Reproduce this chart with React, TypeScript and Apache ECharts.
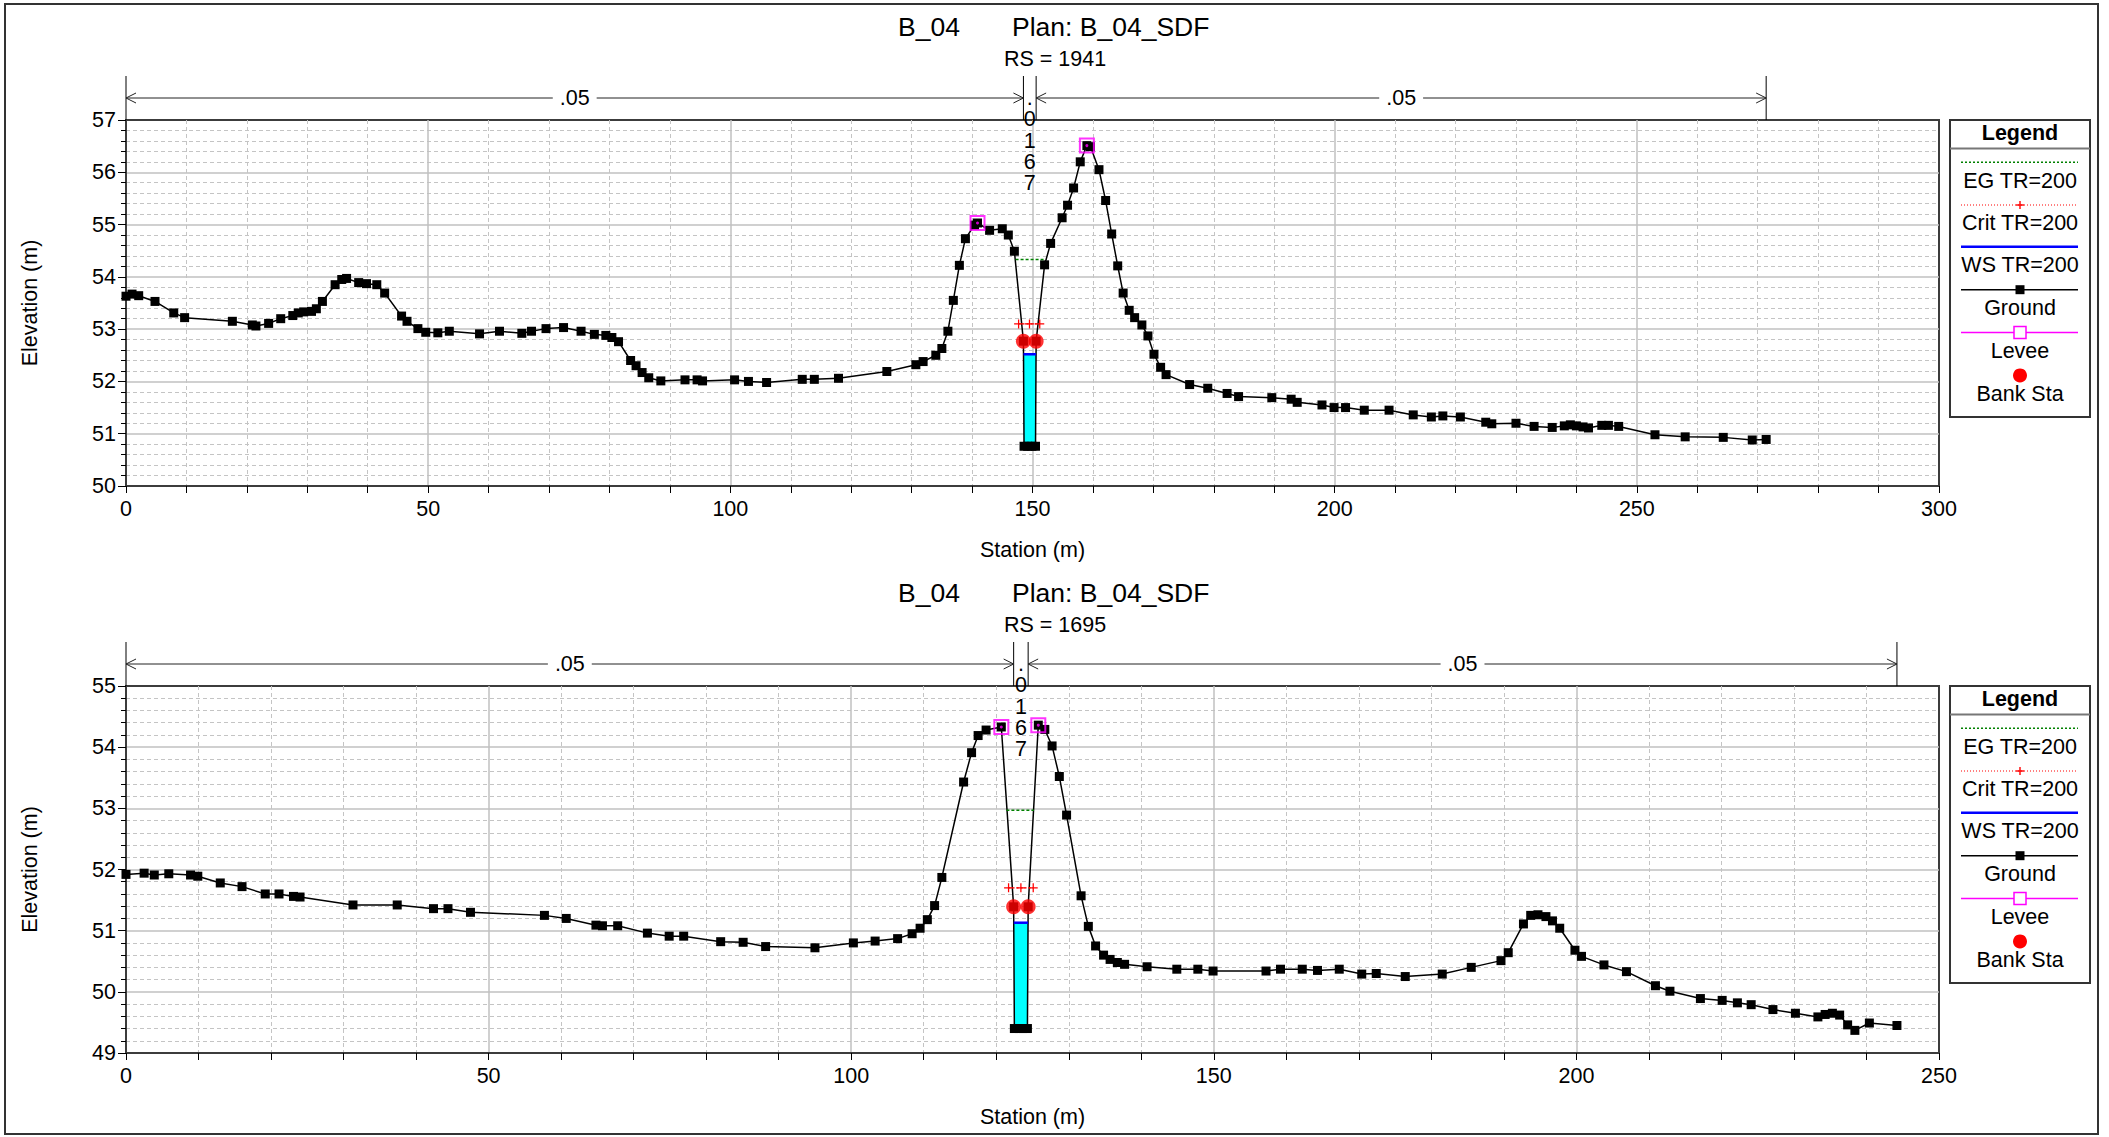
import React, { useEffect, useRef } from "react";
import * as echarts from "echarts";

const FONT = "'Liberation Sans', Arial, Helvetica, sans-serif";

// ---------------- Titles ----------------
const riverName = "B_04";
const planName = "Plan: B_04_SDF";

// ---------------- Cross section 1 : RS = 1941 ----------------
const rs1 = "RS = 1941";
const ground1Station = [0, 1.0, 2.1, 4.8, 7.9, 9.7, 17.6, 20.9, 21.5, 23.6, 25.6, 27.6, 28.5, 29.4, 30.7, 31.5, 32.5, 34.6, 35.7, 36.5, 38.5, 39.8, 41.5, 42.8, 45.6, 46.5, 48.3, 49.6, 51.6, 53.5, 58.5, 61.8, 65.5, 67.1, 69.5, 72.4, 75.3, 77.5, 79.4, 80.4, 81.5, 83.5, 84.4, 85.4, 86.5, 88.5, 92.5, 94.5, 95.4, 100.7, 103.0, 106.0, 111.9, 113.9, 117.9, 125.9, 130.7, 131.9, 134.0, 135.0, 136.0, 136.9, 137.9, 138.9, 140.4, 140.9, 142.9, 145.0, 146.0, 147.0, 148.5, 148.6, 149.2, 149.9, 150.5, 150.6, 152.0, 153.0, 154.9, 155.8, 156.8, 157.9, 159.0, 159.6, 161.0, 162.1, 163.1, 164.1, 165.0, 166.0, 166.9, 168.1, 169.1, 170.1, 171.2, 172.1, 176.0, 179.0, 182.2, 184.1, 189.6, 192.8, 193.8, 197.9, 199.9, 201.8, 204.9, 209.0, 213.0, 216.0, 217.9, 220.8, 225.0, 226.0, 230.0, 233.0, 236.0, 238.0, 239.0, 240.0, 241.1, 242.0, 244.2, 245.3, 247.0, 253.0, 258.0, 264.3, 269.1, 271.4];
const ground1Elev = [53.63, 53.67, 53.64, 53.53, 53.31, 53.22, 53.15, 53.08, 53.06, 53.11, 53.20, 53.26, 53.31, 53.33, 53.34, 53.39, 53.53, 53.85, 53.95, 53.97, 53.89, 53.87, 53.85, 53.69, 53.25, 53.15, 53.01, 52.94, 52.93, 52.96, 52.91, 52.96, 52.92, 52.96, 53.01, 53.03, 52.96, 52.90, 52.88, 52.84, 52.76, 52.40, 52.30, 52.17, 52.07, 52.01, 52.03, 52.03, 52.01, 52.03, 52.00, 51.98, 52.04, 52.04, 52.06, 52.19, 52.32, 52.38, 52.50, 52.63, 52.96, 53.55, 54.22, 54.73, 54.99, 55.03, 54.89, 54.92, 54.80, 54.49, 52.77, 50.76, 50.76, 50.76, 50.76, 52.77, 54.23, 54.64, 55.13, 55.37, 55.70, 56.20, 56.51, 56.49, 56.05, 55.46, 54.82, 54.21, 53.69, 53.36, 53.22, 53.08, 52.87, 52.52, 52.27, 52.13, 51.94, 51.87, 51.77, 51.71, 51.69, 51.66, 51.60, 51.55, 51.50, 51.50, 51.45, 51.45, 51.36, 51.32, 51.34, 51.32, 51.22, 51.19, 51.20, 51.14, 51.12, 51.15, 51.17, 51.15, 51.13, 51.11, 51.16, 51.16, 51.14, 50.98, 50.94, 50.93, 50.88, 50.89];
const levee1Station = [140.9, 159.0];
const levee1Elev = [55.03, 56.51];
const bank1Station = [148.5, 150.6];
const bank1Elev = [52.77, 52.77];
const ws1Elev = 52.52;
const crit1Station = [147.7, 149.5, 151.2];
const crit1Elev = 53.10;
const eg1Station = [147.2, 152.0];
const eg1Elev = 54.33;
const n1Breaks = [0, 148.5, 150.6, 271.4];
const n1Values = [".05", ".0167", ".05"];
const x1Max = 300;
const y1Min = 50;
const y1Max = 57;

// ---------------- Cross section 2 : RS = 1695 ----------------
const rs2 = "RS = 1695";
const ground2Station = [0, 2.5, 3.9, 5.9, 8.9, 9.9, 13.0, 16.0, 19.2, 21.1, 23.1, 24.0, 31.3, 37.4, 42.4, 44.4, 47.5, 57.7, 60.7, 64.8, 65.7, 67.8, 71.9, 74.9, 76.9, 82.0, 85.1, 88.2, 95.0, 100.3, 103.3, 106.4, 108.4, 109.5, 110.5, 111.5, 112.5, 115.5, 116.6, 117.5, 118.6, 120.7, 122.4, 122.5, 123.1, 123.7, 124.3, 124.4, 125.8, 126.7, 127.7, 128.7, 129.7, 131.7, 132.7, 133.7, 134.8, 135.7, 136.7, 137.7, 140.8, 144.9, 147.8, 149.9, 157.2, 159.2, 162.2, 164.3, 167.3, 170.4, 172.4, 176.4, 181.5, 185.5, 189.6, 190.6, 192.7, 193.7, 194.7, 195.8, 196.7, 197.7, 199.8, 200.7, 203.8, 206.9, 210.9, 212.9, 217.1, 220.1, 222.2, 224.1, 227.1, 230.2, 233.3, 234.3, 235.3, 236.3, 237.4, 238.4, 240.4, 244.2];
const ground2Elev = [51.92, 51.94, 51.91, 51.93, 51.91, 51.89, 51.78, 51.72, 51.60, 51.60, 51.56, 51.55, 51.42, 51.42, 51.36, 51.36, 51.30, 51.25, 51.20, 51.09, 51.08, 51.08, 50.96, 50.91, 50.91, 50.82, 50.81, 50.74, 50.72, 50.80, 50.83, 50.87, 50.95, 51.04, 51.18, 51.41, 51.87, 53.43, 53.91, 54.19, 54.28, 54.33, 51.39, 49.40, 49.40, 49.40, 49.40, 51.39, 54.36, 54.29, 54.02, 53.52, 52.89, 51.57, 51.07, 50.75, 50.60, 50.53, 50.48, 50.45, 50.41, 50.37, 50.37, 50.34, 50.34, 50.37, 50.37, 50.35, 50.37, 50.29, 50.30, 50.25, 50.29, 50.40, 50.51, 50.64, 51.11, 51.25, 51.26, 51.23, 51.16, 51.04, 50.68, 50.58, 50.44, 50.33, 50.10, 50.01, 49.89, 49.86, 49.82, 49.79, 49.71, 49.65, 49.59, 49.63, 49.65, 49.62, 49.46, 49.37, 49.49, 49.45];
const levee2Station = [120.7, 125.8];
const levee2Elev = [54.33, 54.36];
const bank2Station = [122.4, 124.4];
const bank2Elev = [51.39, 51.39];
const ws2Elev = 51.13;
const crit2Station = [121.7, 123.4, 125.1];
const crit2Elev = 51.70;
const eg2Station = [121.4, 125.2];
const eg2Elev = 52.97;
const n2Breaks = [0, 122.4, 124.4, 244.2];
const n2Values = [".05", ".0167", ".05"];
const x2Max = 250;
const y2Min = 49;
const y2Max = 55;

// ---------------- Legend ----------------
const legendLabels = ["EG TR=200", "Crit TR=200", "WS TR=200", "Ground", "Levee", "Bank Sta"];

// ---------------- helpers ----------------
const zip = (a: number[], b: number[]) => a.map((v, i) => [v, b[i]]);

function wetPolygon(st: number[], el: number[], ws: number, xL: number, xR: number) {
  const idx: number[] = [];
  st.forEach((s, i) => { if (s >= xL && s <= xR) idx.push(i); });
  const pts: number[][] = [];
  for (let k = 0; k < idx.length; k++) {
    const i = idx[k];
    if (el[i] <= ws) pts.push([st[i], el[i]]);
    if (k < idx.length - 1) {
      const j = idx[k + 1];
      if ((el[i] - ws) * (el[j] - ws) < 0) {
        const t = (ws - el[i]) / (el[j] - el[i]);
        pts.push([st[i] + t * (st[j] - st[i]), ws]);
      }
    }
  }
  return pts;
}

const panels = [
  {
    rs: rs1, gs: ground1Station, ge: ground1Elev, ls: levee1Station, le: levee1Elev,
    bs: bank1Station, be: bank1Elev, ws: ws1Elev, cs: crit1Station, ce: crit1Elev,
    es: eg1Station, ee: eg1Elev, nb: n1Breaks, nv: n1Values, xMax: x1Max, yMin: y1Min, yMax: y1Max,
    top: 120, height: 366,
  },
  {
    rs: rs2, gs: ground2Station, ge: ground2Elev, ls: levee2Station, le: levee2Elev,
    bs: bank2Station, be: bank2Elev, ws: ws2Elev, cs: crit2Station, ce: crit2Elev,
    es: eg2Station, ee: eg2Elev, nb: n2Breaks, nv: n2Values, xMax: x2Max, yMin: y2Min, yMax: y2Max,
    top: 686, height: 367,
  },
];

const GRID_LEFT = 126;
const GRID_W = 1813;
const FS = 21.5;
const PLUS = "path://M0,4.3L10,4.3L10,5.7L0,5.7ZM4.3,0L5.7,0L5.7,10L4.3,10Z";

export default function App() {
  const ref = useRef<HTMLDivElement>(null);
  useEffect(() => {
    const el = ref.current!;
    const chart = echarts.init(el, undefined, { renderer: "svg" });
    const grids: any[] = [];
    const xAxes: any[] = [];
    const yAxes: any[] = [];
    const series: any[] = [];

    panels.forEach((p, k) => {
      grids.push({
        left: GRID_LEFT, top: p.top, width: GRID_W, height: p.height,
        show: true, borderColor: "#3c3c3c", borderWidth: 2, backgroundColor: "#fff",
      });
      xAxes.push({
        gridIndex: k, type: "value", min: 0, max: p.xMax, interval: 50,
        axisLine: { show: true, onZero: false, lineStyle: { color: "#3c3c3c", width: 2 } },
        axisTick: { show: true, length: 7, lineStyle: { color: "#000", width: 1 } },
        minorTick: { show: true, splitNumber: 5, length: 7, lineStyle: { color: "#000", width: 1 } },
        axisLabel: { margin: 12, fontSize: FS, color: "#000", fontFamily: FONT },
        splitLine: { show: true, showMinLine: false, showMaxLine: false, lineStyle: { color: "#c0c0c0", width: 1.5 } },
        minorSplitLine: { show: true, lineStyle: { color: "#c4c4c4", width: 1, type: [4, 3] } },
      });
      yAxes.push({
        gridIndex: k, type: "value", min: p.yMin, max: p.yMax, interval: 1,
        axisLine: { show: true, onZero: false, lineStyle: { color: "#3c3c3c", width: 2 } },
        axisTick: { show: true, length: 8, lineStyle: { color: "#000", width: 1 } },
        minorTick: { show: true, splitNumber: 5, length: 5, lineStyle: { color: "#000", width: 1 } },
        axisLabel: { margin: 10, fontSize: FS, color: "#000", fontFamily: FONT },
        splitLine: { show: true, showMinLine: false, showMaxLine: false, lineStyle: { color: "#c0c0c0", width: 1.5 } },
        minorSplitLine: { show: true, lineStyle: { color: "#c4c4c4", width: 1, type: [4, 3] } },
      });

      const poly = wetPolygon(p.gs, p.ge, p.ws, p.bs[0], p.bs[1]);
      const ax = { xAxisIndex: k, yAxisIndex: k };
      series.push({
        type: "custom", ...ax, z: 1, silent: true,
        data: [poly[0]],
        renderItem: (_params: any, api: any) => ({
          type: "polygon",
          shape: { points: poly.map((q) => api.coord(q)) },
          style: { fill: "#00ffff", stroke: "none" },
        }),
      });
      series.push({
        type: "line", ...ax, z: 3, data: zip(p.gs, p.ge),
        symbol: "rect", symbolSize: 9, showSymbol: true,
        itemStyle: { color: "#000" }, lineStyle: { color: "#000", width: 1.5 },
      });
      series.push({
        type: "line", ...ax, z: 4,
        data: [poly[0], [poly[poly.length - 1][0], p.ws]],
        symbol: "none", lineStyle: { color: "#0000ff", width: 2.5 },
      });
      series.push({
        type: "line", ...ax, z: 4, data: p.es.map((s) => [s, p.ee]),
        symbol: "none", lineStyle: { color: "#008000", width: 1.5, type: [3, 2] },
      });
      series.push({
        type: "line", ...ax, z: 5, data: p.cs.map((s) => [s, p.ce]),
        symbol: PLUS, symbolSize: 9, itemStyle: { color: "#ff0000" },
        lineStyle: { color: "#ff0000", width: 1.2, type: [2, 2] },
      });
      series.push({
        type: "scatter", ...ax, z: 6, data: zip(p.bs, p.be),
        symbol: "circle", symbolSize: 15, itemStyle: { color: "#ff0000" },
      });
      series.push({
        type: "scatter", ...ax, z: 7, data: zip(p.ls, p.le),
        symbol: "rect", symbolSize: 14,
        itemStyle: { color: "rgba(0,0,0,0)", borderColor: "#ff00ff", borderWidth: 2 },
      });
      series.push({
        type: "scatter", ...ax, z: 8, data: zip(p.ls, p.le),
        symbol: "circle", symbolSize: 3, itemStyle: { color: "#ff00ff" },
      });
    });

    chart.setOption({
      animation: false,
      backgroundColor: "#ffffff",
      grid: grids,
      xAxis: xAxes,
      yAxis: yAxes,
      series,
    });

    // ---------- graphic overlays ----------
    const g: any[] = [];
    const txt = (x: number, y: number, text: string, size: number, extra: any = {}, elExtra: any = {}) => ({
      type: "text", x, y, z: 50, ...elExtra,
      style: { text, fontSize: size, fontFamily: FONT, fill: "#000", align: "center", verticalAlign: "middle", ...extra },
    });
    const ln = (x1: number, y1: number, x2: number, y2: number, style: any) => ({
      type: "line", z: 50, shape: { x1, y1, x2, y2 }, style: { lineWidth: 1, stroke: "#000", ...style },
    });

    // outer frame
    g.push({ type: "rect", z: 60, shape: { x: 5, y: 4, width: 2093, height: 1130 }, style: { fill: "none", stroke: "#333", lineWidth: 2 } });

    panels.forEach((p, k) => {
      const px = (v: number) => chart.convertToPixel({ xAxisIndex: k } as any, v) as unknown as number;
      const py = (v: number) => chart.convertToPixel({ yAxisIndex: k } as any, v) as unknown as number;
      const top = py(p.yMax);
      const bottom = py(p.yMin);
      const left = px(0);
      const right = px(p.xMax);

      // Titles
      g.push(txt(929, top - 93, riverName, 26.5));
      g.push(txt(1012, top - 93, planName, 26.5, { align: "left" }));
      g.push(txt(1055, top - 61, p.rs, FS));

      // Axis names
      g.push(txt((left + right) / 2, bottom + 64, "Station (m)", FS));
      g.push(txt(30, (top + bottom) / 2, "Elevation (m)", FS, {}, { rotation: Math.PI / 2 }));

      // Manning's n bars
      const tickTop = top - 44;
      const arrowY = top - 22;
      p.nb.forEach((b) => g.push(ln(px(b), tickTop, px(b), top, { stroke: "#000" })));
      for (let i = 0; i < p.nv.length; i++) {
        const a = px(p.nb[i]);
        const b = px(p.nb[i + 1]);
        const mid = (a + b) / 2;
        if (b - a > 60) {
          g.push(ln(a, arrowY, b, arrowY, { stroke: "#222" }));
          g.push({ type: "polyline", z: 50, shape: { points: [[a + 10, arrowY - 5], [a, arrowY], [a + 10, arrowY + 5]] }, style: { stroke: "#222", lineWidth: 1, fill: "none" } });
          g.push({ type: "polyline", z: 50, shape: { points: [[b - 10, arrowY - 5], [b, arrowY], [b - 10, arrowY + 5]] }, style: { stroke: "#222", lineWidth: 1, fill: "none" } });
          g.push(txt(mid, arrowY, p.nv[i], FS, { backgroundColor: "#fff", padding: [0, 7] }, { z: 51 }));
        } else {
          g.push(txt(mid, arrowY - 11, p.nv[i].split("").join("\n"), 21.5, { verticalAlign: "top", lineHeight: 21.4 }, { z: 55 }));
        }
      }

      // Legend box
      const lx = 1950;
      const lw = 140;
      const ly = top;
      const cx = lx + lw / 2;
      const x1 = 1961;
      const x2 = 2078;
      g.push({ type: "rect", z: 50, shape: { x: lx, y: ly, width: lw, height: 297 }, style: { fill: "#fff", stroke: "#333", lineWidth: 2 } });
      g.push(ln(lx, ly + 28.6, lx + lw, ly + 28.6, { stroke: "#777", lineWidth: 2 }));
      g.push(txt(cx, ly + 13, "Legend", FS, { fontWeight: "bold" }));
      const lineY = [42.2, 85, 126.8, 169.7, 212.5, 255.4];
      const labY = [60.8, 102.9, 145.4, 188.3, 231.1, 274.3];
      // EG
      g.push(ln(x1, ly + lineY[0], x2, ly + lineY[0], { stroke: "#008000", lineWidth: 1.5, lineDash: [2, 2] }));
      // Crit
      g.push(ln(x1, ly + lineY[1], x2, ly + lineY[1], { stroke: "#ff0000", lineWidth: 1, lineDash: [1, 2] }));
      g.push(ln(cx - 4, ly + lineY[1], cx + 4, ly + lineY[1], { stroke: "#ff0000", lineWidth: 1.4 }));
      g.push(ln(cx, ly + lineY[1] - 4, cx, ly + lineY[1] + 4, { stroke: "#ff0000", lineWidth: 1.4 }));
      // WS
      g.push(ln(x1, ly + lineY[2], x2, ly + lineY[2], { stroke: "#0000ff", lineWidth: 2.5 }));
      // Ground
      g.push(ln(x1, ly + lineY[3], x2, ly + lineY[3], { stroke: "#000", lineWidth: 1.5 }));
      g.push({ type: "rect", z: 51, shape: { x: cx - 4.5, y: ly + lineY[3] - 4.5, width: 9, height: 9 }, style: { fill: "#000" } });
      // Levee
      g.push(ln(x1, ly + lineY[4], x2, ly + lineY[4], { stroke: "#ff00ff", lineWidth: 1.5 }));
      g.push({ type: "rect", z: 51, shape: { x: cx - 6, y: ly + lineY[4] - 6, width: 12, height: 12 }, style: { fill: "#fff", stroke: "#ff00ff", lineWidth: 1.5 } });
      // Bank Sta
      g.push({ type: "circle", z: 51, shape: { cx, cy: ly + lineY[5], r: 7 }, style: { fill: "#ff0000" } });
      legendLabels.forEach((t, i) => g.push(txt(cx, ly + labY[i], t, FS)));
    });

    chart.setOption({ graphic: g });
    return () => chart.dispose();
  }, []);

  return (
    <div
      ref={ref}
      style={{ position: "absolute", left: 0, top: 0, width: 2109, height: 1137, background: "#fff" }}
    />
  );
}
